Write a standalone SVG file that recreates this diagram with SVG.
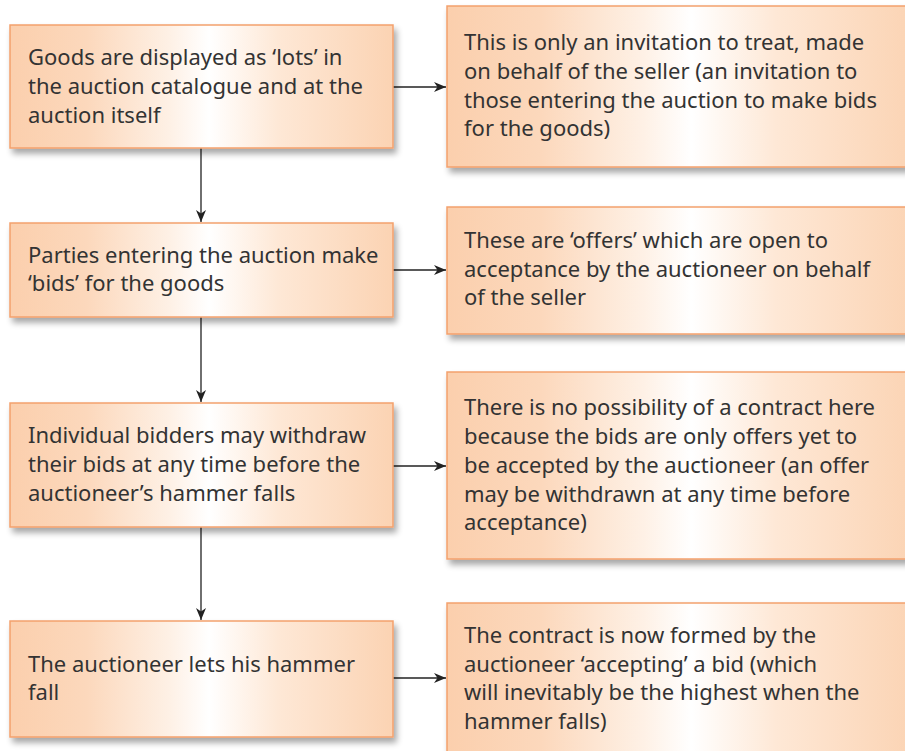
<svg xmlns="http://www.w3.org/2000/svg" width="905" height="751" viewBox="0 0 905 751">
  <defs>
    <linearGradient id="peach" x1="0" y1="0" x2="1" y2="0">
      <stop offset="0" stop-color="#fbcfad"/>
      <stop offset="0.2" stop-color="#fcd8bc"/>
      <stop offset="0.42" stop-color="#fef1e6"/>
      <stop offset="0.52" stop-color="#ffffff"/>
      <stop offset="0.7" stop-color="#fee8d6"/>
      <stop offset="1" stop-color="#fbd3b3"/>
    </linearGradient>
    <filter id="shadow" x="-5%" y="-10%" width="115%" height="130%">
      <feGaussianBlur in="SourceAlpha" stdDeviation="3"/>
      <feOffset dx="3" dy="5" result="b"/>
      <feComponentTransfer><feFuncA type="linear" slope="0.35"/></feComponentTransfer>
      <feMerge><feMergeNode/><feMergeNode in="SourceGraphic"/></feMerge>
    </filter>
    <marker id="arrow" viewBox="0 0 12 10" refX="12" refY="5" markerWidth="12" markerHeight="10" markerUnits="userSpaceOnUse" orient="auto">
      <path d="M0,0 L12,5 L0,10 L3.5,5 Z" fill="#222"/>
    </marker>
  </defs>
  <style>
    .box { fill: url(#peach); stroke: #f4a16c; stroke-width: 1.5; filter: url(#shadow); }
    .label { font-family: "Noto Sans", "Open Sans", sans-serif; font-size: 22px; fill: #333333; }
    .link { stroke: #222; stroke-width: 1.3; fill: none; marker-end: url(#arrow); }
  </style>
  <rect width="905" height="751" fill="#ffffff"/>

  <g id="connectors">
    <line class="link" x1="201" y1="148" x2="201" y2="222"/>
    <line class="link" x1="201" y1="317" x2="201" y2="402"/>
    <line class="link" x1="201" y1="527" x2="201" y2="620"/>
    <line class="link" x1="393" y1="87" x2="446" y2="87"/>
    <line class="link" x1="393" y1="270" x2="446" y2="270"/>
    <line class="link" x1="393" y1="466" x2="446" y2="466"/>
    <line class="link" x1="393" y1="678" x2="446" y2="678"/>
  </g>

  <g id="step-lots">
    <rect class="box" x="10" y="25" width="383" height="123"/>
    <text class="label"><tspan x="28" y="65">Goods are displayed as ‘lots’ in</tspan><tspan x="28" y="94">the auction catalogue and at the</tspan><tspan x="28" y="123">auction itself</tspan></text>
  </g>
  <g id="note-invitation">
    <rect class="box" x="447" y="6" width="470" height="161"/>
    <text class="label"><tspan x="464" y="50">This is only an invitation to treat, made</tspan><tspan x="464" y="79">on behalf of the seller (an invitation to</tspan><tspan x="464" y="108">those entering the auction to make bids</tspan><tspan x="464" y="136">for the goods)</tspan></text>
  </g>

  <g id="step-bids">
    <rect class="box" x="10" y="223" width="383" height="94"/>
    <text class="label"><tspan x="28" y="263">Parties entering the auction make</tspan><tspan x="28" y="291">‘bids’ for the goods</tspan></text>
  </g>
  <g id="note-offers">
    <rect class="box" x="447" y="207" width="470" height="127"/>
    <text class="label"><tspan x="464" y="248">These are ‘offers’ which are open to</tspan><tspan x="464" y="277">acceptance by the auctioneer on behalf</tspan><tspan x="464" y="305">of the seller</tspan></text>
  </g>

  <g id="step-withdraw">
    <rect class="box" x="10" y="403" width="383" height="124"/>
    <text class="label"><tspan x="28" y="443">Individual bidders may withdraw</tspan><tspan x="28" y="472">their bids at any time before the</tspan><tspan x="28" y="501">auctioneer’s hammer falls</tspan></text>
  </g>
  <g id="note-no-contract">
    <rect class="box" x="447" y="372" width="470" height="187"/>
    <text class="label"><tspan x="464" y="415">There is no possibility of a contract here</tspan><tspan x="464" y="444">because the bids are only offers yet to</tspan><tspan x="464" y="473">be accepted by the auctioneer (an offer</tspan><tspan x="464" y="502">may be withdrawn at any time before</tspan><tspan x="464" y="530">acceptance)</tspan></text>
  </g>

  <g id="step-hammer">
    <rect class="box" x="10" y="621" width="383" height="116"/>
    <text class="label"><tspan x="28" y="672">The auctioneer lets his hammer</tspan><tspan x="28" y="700">fall</tspan></text>
  </g>
  <g id="note-contract">
    <rect class="box" x="447" y="603" width="470" height="170"/>
    <text class="label"><tspan x="464" y="643">The contract is now formed by the</tspan><tspan x="464" y="672">auctioneer ‘accepting’ a bid (which</tspan><tspan x="464" y="700">will inevitably be the highest when the</tspan><tspan x="464" y="729">hammer falls)</tspan></text>
  </g>
</svg>
